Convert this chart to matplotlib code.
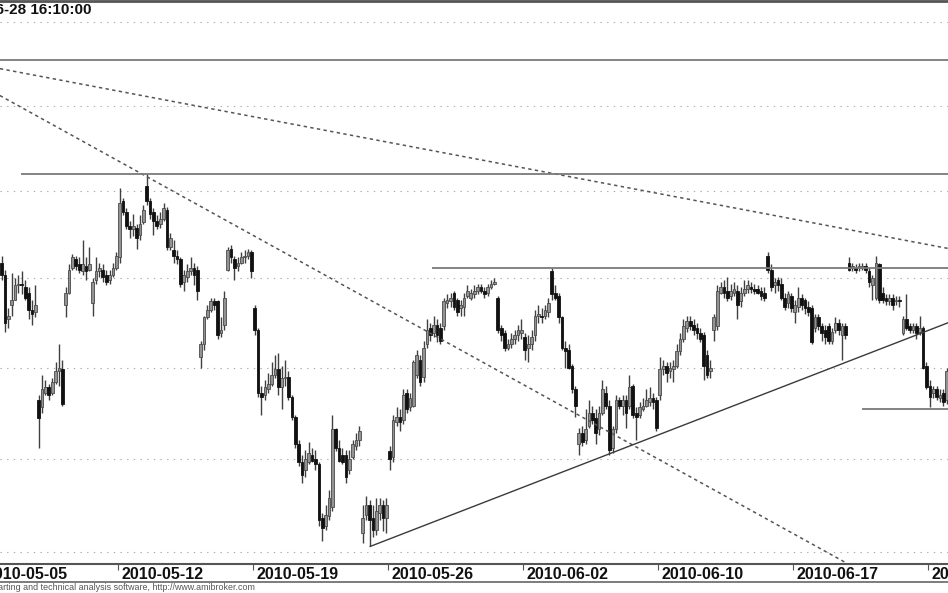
import matplotlib
matplotlib.use('Agg')
import numpy as np
import matplotlib.pyplot as plt
from matplotlib import transforms
from matplotlib.lines import Line2D

# hourly bars, 8 per session; first visible bar is the 6th bar of 2010-05-05
first_bar = 5
bars_per_day = 8

opens = [
    2309, 2302, 2277,                                   # 05-05
    2285, 2288, 2296, 2297, 2295, 2292, 2282, 2281,     # 05-06
    2232, 2228, 2236, 2239, 2236, 2242, 2248, 2249,     # 05-07
    2285, 2292, 2306, 2311, 2308, 2304, 2307, 2305,     # 05-10
    2286, 2299, 2304, 2305, 2302, 2299, 2302, 2306,     # 05-11
    2312, 2344, 2338, 2330, 2328, 2329, 2325, 2332,     # 05-12
    2353, 2344, 2338, 2333, 2331, 2334, 2339, 2318,     # 05-13
    2316, 2313, 2311, 2298, 2301, 2304, 2306, 2305,     # 05-14
    2256, 2263, 2278, 2282, 2287, 2287, 2269, 2274,     # 05-17
    2305, 2317, 2311, 2307, 2309, 2312, 2313, 2315,     # 05-18
    2283, 2271, 2236, 2235, 2238, 2241, 2246, 2249,     # 05-19
    2239, 2244, 2245, 2234, 2223, 2208, 2198, 2194,     # 05-20
    2198, 2202, 2200, 2197, 2168, 2164, 2169, 2174,     # 05-21
    2216, 2206, 2202, 2202, 2194, 2201, 2207, 2210,     # 05-24
    2160, 2170, 2175, 2168, 2162, 2171, 2175, 2168,     # 05-25
    2204, 2201, 2220, 2223, 2221, 2236, 2228, 2229,     # 05-26
    2246, 2254, 2245, 2263, 2272, 2269, 2274, 2272,     # 05-27
    2273, 2286, 2287, 2292, 2288, 2283, 2284, 2290,     # 05-28
    2289, 2291, 2293, 2295, 2293, 2292, 2295, 2297,     # 05-31
    2289, 2272, 2269, 2261, 2263, 2266, 2268, 2269,     # 06-01
    2267, 2261, 2263, 2268, 2279, 2279, 2279, 2281,     # 06-02
    2304, 2292, 2290, 2278, 2261, 2260, 2251, 2238,     # 06-04
    2208, 2214, 2210, 2218, 2225, 2222, 2216, 2225,     # 06-07
    2236, 2229, 2206, 2216, 2232, 2229, 2232, 2229,     # 06-08
    2240, 2225, 2224, 2227, 2229, 2231, 2233, 2232,     # 06-09
    2235, 2249, 2251, 2248, 2249, 2251, 2259, 2266,     # 06-10
    2272, 2276, 2274, 2272, 2269, 2268, 2257, 2248,     # 06-11
    2271, 2273, 2292, 2295, 2293, 2290, 2292, 2293,     # 06-14
    2287, 2292, 2294, 2295, 2294, 2294, 2293, 2292,     # 06-15
    2313, 2305, 2296, 2299, 2297, 2289, 2286, 2290,     # 06-16
    2281, 2284, 2289, 2288, 2284, 2283, 2272, 2278,     # 06-17
    2273, 2271, 2273, 2265, 2271, 2275, 2268, 2273,     # 06-18
    2309, 2306, 2306, 2306, 2306, 2307, 2304, 2296,     # 06-21
    2289, 2308, 2292, 2289, 2287, 2289, 2287, 2288,     # 06-22
    2269, 2277, 2273, 2271, 2273, 2270, 2272, 2251,     # 06-23
    2240, 2236, 2238, 2233, 2236, 2232, 2248,           # 06-24
]
highs = [
    2313, 2305, 2283,
    2303, 2300, 2302, 2304, 2299, 2295, 2288, 2296,
    2235, 2246, 2243, 2241, 2244, 2253, 2263, 2254,
    2295, 2308, 2314, 2313, 2312, 2322, 2312, 2318,
    2300, 2312, 2309, 2308, 2305, 2305, 2309, 2315,
    2352, 2346, 2340, 2333, 2337, 2331, 2336, 2342,
    2360, 2346, 2340, 2336, 2338, 2343, 2341, 2326,
    2322, 2316, 2312, 2305, 2308, 2312, 2309, 2307,
    2265, 2279, 2285, 2289, 2289, 2288, 2278, 2293,
    2318, 2319, 2313, 2312, 2315, 2316, 2317, 2316,
    2285, 2272, 2240, 2243, 2247, 2253, 2257, 2258,
    2251, 2254, 2248, 2235, 2224, 2210, 2202, 2205,
    2209, 2206, 2205, 2198, 2171, 2175, 2183, 2224,
    2217, 2210, 2206, 2205, 2205, 2210, 2214, 2218,
    2175, 2180, 2178, 2175, 2179, 2179, 2178, 2179,
    2207, 2224, 2228, 2227, 2238, 2238, 2236, 2254,
    2260, 2257, 2265, 2277, 2275, 2279, 2277, 2275,
    2289, 2291, 2292, 2293, 2289, 2288, 2292, 2296,
    2294, 2296, 2297, 2297, 2295, 2297, 2299, 2300,
    2290, 2274, 2271, 2266, 2269, 2271, 2274, 2277,
    2269, 2268, 2271, 2282, 2285, 2283, 2285, 2289,
    2306, 2296, 2292, 2279, 2265, 2263, 2252, 2240,
    2217, 2218, 2227, 2232, 2229, 2227, 2229, 2243,
    2240, 2232, 2218, 2235, 2234, 2235, 2235, 2246,
    2241, 2228, 2231, 2233, 2238, 2239, 2236, 2234,
    2256, 2254, 2253, 2253, 2254, 2263, 2269, 2277,
    2279, 2279, 2277, 2275, 2272, 2270, 2260, 2254,
    2280, 2296, 2298, 2299, 2301, 2297, 2298, 2296,
    2295, 2299, 2299, 2298, 2297, 2296, 2295, 2295,
    2315, 2308, 2300, 2301, 2300, 2292, 2293, 2292,
    2288, 2295, 2291, 2289, 2287, 2285, 2280, 2280,
    2275, 2274, 2275, 2272, 2278, 2277, 2275, 2275,
    2312, 2309, 2308, 2309, 2309, 2309, 2306, 2302,
    2313, 2309, 2295, 2291, 2291, 2291, 2290, 2290,
    2279, 2291, 2275, 2275, 2275, 2279, 2273, 2253,
    2243, 2240, 2240, 2238, 2238, 2250, 2254,
]
lows = [
    2299, 2270, 2272,
    2279, 2288, 2292, 2291, 2288, 2277, 2274, 2278,
    2206, 2225, 2235, 2232, 2235, 2241, 2240, 2229,
    2278, 2291, 2305, 2305, 2303, 2302, 2299, 2304,
    2279, 2297, 2301, 2298, 2296, 2297, 2301, 2305,
    2309, 2336, 2328, 2323, 2324, 2317, 2322, 2331,
    2342, 2334, 2325, 2328, 2329, 2333, 2316, 2316,
    2309, 2308, 2295, 2293, 2298, 2302, 2296, 2288,
    2250, 2260, 2277, 2281, 2282, 2266, 2267, 2271,
    2304, 2309, 2299, 2304, 2308, 2309, 2311, 2300,
    2268, 2234, 2224, 2232, 2236, 2240, 2244, 2235,
    2227, 2240, 2232, 2221, 2206, 2196, 2187, 2190,
    2197, 2198, 2194, 2164, 2156, 2162, 2167, 2172,
    2204, 2198, 2197, 2187, 2192, 2200, 2205, 2207,
    2155, 2167, 2153, 2158, 2159, 2167, 2161, 2160,
    2194, 2198, 2218, 2215, 2219, 2225, 2226, 2228,
    2244, 2240, 2242, 2261, 2265, 2267, 2264, 2263,
    2271, 2283, 2284, 2282, 2279, 2279, 2279, 2289,
    2288, 2289, 2291, 2292, 2289, 2290, 2294, 2296,
    2269, 2265, 2259, 2260, 2261, 2263, 2265, 2266,
    2254, 2253, 2260, 2265, 2275, 2275, 2277, 2278,
    2288, 2288, 2275, 2260, 2250, 2249, 2236, 2223,
    2202, 2207, 2208, 2217, 2219, 2208, 2213, 2224,
    2227, 2202, 2203, 2214, 2227, 2224, 2217, 2227,
    2222, 2210, 2222, 2226, 2228, 2229, 2227, 2215,
    2232, 2246, 2242, 2244, 2242, 2250, 2257, 2264,
    2270, 2271, 2268, 2266, 2264, 2243, 2244, 2244,
    2265, 2271, 2291, 2289, 2287, 2288, 2290, 2277,
    2284, 2290, 2292, 2292, 2291, 2291, 2288, 2287,
    2303, 2293, 2292, 2293, 2288, 2282, 2283, 2281,
    2275, 2281, 2282, 2280, 2279, 2263, 2270, 2271,
    2265, 2263, 2263, 2263, 2269, 2268, 2254, 2266,
    2304, 2304, 2303, 2304, 2305, 2303, 2295, 2288,
    2288, 2286, 2286, 2285, 2285, 2282, 2285, 2284,
    2268, 2271, 2269, 2269, 2266, 2268, 2249, 2238,
    2228, 2233, 2232, 2231, 2229, 2230, 2244,
]
closes = [
    2302, 2275, 2279,
    2288, 2296, 2297, 2296, 2289, 2282, 2280, 2285,
    2222, 2238, 2239, 2235, 2242, 2248, 2250, 2230,
    2292, 2305, 2312, 2307, 2305, 2308, 2304, 2308,
    2298, 2304, 2306, 2301, 2298, 2302, 2306, 2313,
    2343, 2338, 2330, 2328, 2330, 2323, 2331, 2339,
    2344, 2337, 2333, 2330, 2334, 2340, 2318, 2323,
    2313, 2311, 2297, 2302, 2304, 2306, 2302, 2293,
    2263, 2278, 2282, 2287, 2285, 2268, 2271, 2289,
    2316, 2312, 2306, 2309, 2312, 2313, 2315, 2304,
    2271, 2236, 2234, 2239, 2241, 2246, 2249, 2239,
    2244, 2245, 2234, 2223, 2208, 2198, 2191, 2200,
    2203, 2199, 2197, 2167, 2163, 2170, 2179, 2216,
    2206, 2199, 2198, 2190, 2200, 2208, 2210, 2215,
    2168, 2175, 2167, 2162, 2172, 2175, 2168, 2175,
    2200, 2221, 2223, 2220, 2235, 2227, 2233, 2253,
    2257, 2242, 2261, 2271, 2268, 2274, 2268, 2265,
    2287, 2288, 2289, 2284, 2281, 2285, 2289, 2293,
    2292, 2293, 2295, 2293, 2291, 2295, 2297, 2298,
    2271, 2268, 2261, 2263, 2266, 2268, 2271, 2271,
    2260, 2263, 2267, 2279, 2280, 2278, 2282, 2286,
    2291, 2289, 2278, 2261, 2259, 2250, 2238, 2229,
    2214, 2209, 2216, 2225, 2221, 2214, 2225, 2238,
    2229, 2205, 2216, 2232, 2229, 2232, 2225, 2239,
    2224, 2223, 2228, 2229, 2232, 2233, 2231, 2217,
    2249, 2251, 2247, 2250, 2251, 2259, 2266, 2273,
    2276, 2273, 2271, 2269, 2266, 2251, 2246, 2250,
    2278, 2293, 2295, 2292, 2289, 2293, 2294, 2285,
    2292, 2294, 2296, 2294, 2293, 2292, 2290, 2289,
    2305, 2295, 2298, 2296, 2289, 2284, 2291, 2283,
    2285, 2289, 2285, 2283, 2281, 2264, 2278, 2273,
    2269, 2267, 2265, 2270, 2275, 2271, 2273, 2268,
    2305, 2307, 2305, 2307, 2307, 2305, 2298, 2300,
    2309, 2288, 2288, 2287, 2289, 2285, 2288, 2287,
    2277, 2272, 2271, 2273, 2269, 2272, 2250, 2239,
    2234, 2238, 2234, 2235, 2231, 2248, 2250,
]

# weekly date labels, placed on the first bar of that session (session number counted from 05-05)
tick_days = [0, 5, 10, 15, 20, 25, 30, 35]
tick_labels = ['2010-05-05', '2010-05-12', '2010-05-19', '2010-05-26',
               '2010-06-02', '2010-06-10', '2010-06-17', '2010-06-24']

grid_levels = [2150, 2200, 2250, 2300, 2350, 2400, 2450]

# drawn studies: (bar, price) end points
fall_a_bars, fall_a_prices = [4.5, 285.5], [2422, 2317]
fall_b_bars, fall_b_prices = [4.5, 255.5], [2406, 2144]
rise_bars, rise_prices = [114.2, 285.4], [2153, 2275]
level_starts = [-10, 10.8, 132.5, 260.0]
level_prices = [2427, 2360, 2306, 2227]

W, H = 948, 593
fig = plt.figure(figsize=(W / 100, H / 100), dpi=100)
ax = fig.add_axes([0, 29 / H, 1, 563 / H])

x = first_bar + np.arange(len(closes))
o = np.array(opens, float)
c = np.array(closes, float)
hi = np.array(highs, float)
lo = np.array(lows, float)
up = c >= o

ax.set_yscale('log')

for g in grid_levels:
    ax.axhline(g, color='#a8a8a8', lw=0.8, ls=(0, (1.2, 4.8)), zorder=1)

ax.vlines(x, lo, hi, color='#404040', lw=1.0, zorder=2)
ax.bar(x[up], (c - o)[up], bottom=o[up], width=0.8, color='#929292',
       edgecolor='#4a4a4a', lw=0.6, zorder=3)
ax.bar(x[~up], (o - c)[~up], bottom=c[~up], width=0.8, color='#111111',
       edgecolor='#111111', lw=0.6, zorder=3)

# studies
ax.plot(fall_a_bars, fall_a_prices, color='#555555', lw=1.1, ls=(0, (2.2, 2.2)), zorder=4)
ax.plot(fall_b_bars, fall_b_prices, color='#555555', lw=1.1, ls=(0, (2.2, 2.2)), zorder=4)
ax.plot(rise_bars, rise_prices, color='#3a3a3a', lw=1.0, zorder=4)
ax.hlines(level_prices, level_starts, 300, color='#7a7a7a', lw=1.3, zorder=4)

ax.yaxis.set_major_locator(matplotlib.ticker.NullLocator())
ax.yaxis.set_minor_locator(matplotlib.ticker.NullLocator())
ax.tick_params(axis='y', which='both', left=False, labelleft=False)

tick_pos = [bars_per_day * d - 0.5 for d in tick_days]
ax.set_xticks(tick_pos)
ax.tick_params(axis='x', direction='out', length=4.5, width=0.8, color='#555555',
               labelbottom=False)
# limits after the ticks, so the off-screen 05-05 tick does not widen the view
ax.set_xlim(4.54, 285.37)
ax.set_ylim(2143.7, 2462.7)

lab_tr = transforms.offset_copy(ax.get_xaxis_transform(), fig=fig, x=3, y=-3, units='dots')
for p, lab in zip(tick_pos, tick_labels):
    ax.text(p, 0, lab, transform=lab_tr, ha='left', va='top', fontsize=11.5,
            fontweight='bold', family='Liberation Sans', color='#111111', clip_on=False)

for side in ['left', 'right']:
    ax.spines[side].set_visible(False)
ax.spines['top'].set_color('#555555')
ax.spines['top'].set_linewidth(2)
ax.spines['bottom'].set_color('#555555')
ax.spines['bottom'].set_linewidth(1.5)

fig.add_artist(Line2D([0, 1], [1 - 582 / H, 1 - 582 / H], transform=fig.transFigure,
                      color='#666666', lw=1.2))

fig.text(92 / W, 1 - 10 / H, '2010-06-28 16:10:00', ha='right', va='center',
         fontsize=11, fontweight='bold', family='Liberation Sans', color='#111111')
fig.text(255 / W, 1 - 588 / H,
         'AmiBroker - charting and technical analysis software, http://www.amibroker.com',
         ha='right', va='center', fontsize=6.4, family='Liberation Sans', color='#555555')

fig.savefig('out.png', dpi=100)
